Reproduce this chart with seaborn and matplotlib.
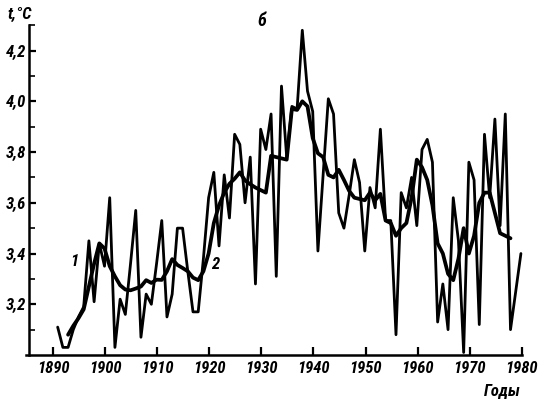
import matplotlib
matplotlib.use("Agg")
import matplotlib.pyplot as plt
from matplotlib import font_manager as fm
from matplotlib.ticker import FixedLocator
import seaborn as sns
import pandas as pd

# ---------------- data ----------------
years = list(range(1890, 1980))
annual = [
    3.11, 3.03, 3.03, 3.10, 3.15, 3.19, 3.45, 3.21, 3.44, 3.35,   # 1890-1899
    3.62, 3.03, 3.22, 3.16, 3.36, 3.57, 3.07, 3.24, 3.20, 3.36,   # 1900-1909
    3.53, 3.15, 3.24, 3.50, 3.50, 3.33, 3.17, 3.17, 3.38, 3.62,   # 1910-1919
    3.72, 3.43, 3.71, 3.54, 3.87, 3.83, 3.60, 3.78, 3.28, 3.89,   # 1920-1929
    3.81, 3.95, 3.31, 4.06, 3.78, 3.98, 3.97, 4.28, 4.04, 3.96,   # 1930-1939
    3.41, 3.71, 4.01, 3.95, 3.56, 3.50, 3.63, 3.77, 3.68, 3.41,   # 1940-1949
    3.66, 3.58, 3.89, 3.53, 3.53, 3.08, 3.64, 3.58, 3.70, 3.51,   # 1950-1959
    3.81, 3.85, 3.76, 3.13, 3.28, 3.10, 3.62, 3.45, 3.01, 3.76,   # 1960-1969
    3.69, 3.12, 3.87, 3.62, 3.93, 3.51, 3.95, 3.10, 3.25, 3.40,   # 1970-1979
]

smooth_years = list(range(1892, 1978))
smoothed = [
    3.08, 3.115, 3.145, 3.18, 3.27, 3.36, 3.44, 3.42,             # 1892-1899
    3.35, 3.31, 3.275, 3.258, 3.255, 3.262, 3.27, 3.295, 3.284, 3.297,  # 1900-1909
    3.296, 3.33, 3.378, 3.355, 3.343, 3.33, 3.305, 3.295, 3.33, 3.40,   # 1910-1919
    3.52, 3.59, 3.64, 3.675, 3.695, 3.72, 3.688, 3.673, 3.66, 3.65,     # 1920-1929
    3.64, 3.785, 3.78, 3.775, 3.77, 3.97, 3.966, 4.00, 3.98, 3.855,     # 1930-1939
    3.795, 3.78, 3.71, 3.70, 3.73, 3.69, 3.647, 3.62, 3.615, 3.61,      # 1940-1949
    3.64, 3.61, 3.635, 3.53, 3.52, 3.47, 3.50, 3.52, 3.62, 3.77,        # 1950-1959
    3.74, 3.69, 3.59, 3.44, 3.40, 3.32, 3.295, 3.38, 3.50, 3.40,        # 1960-1969
    3.47, 3.60, 3.64, 3.64, 3.56, 3.48, 3.47, 3.46,                     # 1970-1977
]

x_ticks = [1890, 1900, 1910, 1920, 1930, 1940, 1950, 1960, 1970, 1980]
y_ticks = [3.2, 3.4, 3.6, 3.8, 4.0, 4.2]
y_tick_labels = ["3,2", "3,4", "3,6", "3,8", "4,0", "4,2"]
y_minor_ticks = [3.1, 3.3, 3.5, 3.7, 3.9, 4.1, 4.3]

y_label = "t,°C"
panel_label = "б"
x_label = "Годы"
series_labels = ["1", "2"]

# the original draws each yearly value a bit to the right of the year tick
YEAR_SHIFT = 0.85

# ---------------- style ----------------
sns.set_style("ticks")
avail = {f.name for f in fm.fontManager.ttflist}
cands = ["Liberation Sans Narrow", "Roboto Condensed", "Open Sans Condensed",
         "Liberation Sans", "DejaVu Sans"]
fam = next((c for c in cands if c in avail), "DejaVu Sans")
plt.rcParams["font.family"] = [fam, "DejaVu Sans"]
plt.rcParams["font.stretch"] = "condensed"

W, H = 538, 399
fig = plt.figure(figsize=(W / 100, H / 100), dpi=100)
ax = fig.add_axes([29.3 / W, 1 - 355 / H, (526.9 - 29.3) / W, (355 - 25.2) / H])

df_a = pd.DataFrame({"x": [y + YEAR_SHIFT for y in years], "t": annual})
df_s = pd.DataFrame({"x": [y + YEAR_SHIFT for y in smooth_years], "t": smoothed})

sns.lineplot(data=df_a, x="x", y="t", ax=ax, color="black", lw=2.0,
             estimator=None, sort=False)
sns.lineplot(data=df_s, x="x", y="t", ax=ax, color="black", lw=2.7,
             estimator=None, sort=False)

xmin, xmax = 1885.4, 1981.0
ax.set_xlim(xmin, xmax)
ax.set_ylim(3.0, 4.3)
ax.set_xlabel("")
ax.set_ylabel("")

for s in ["top", "right"]:
    ax.spines[s].set_visible(False)
for s in ["left", "bottom"]:
    ax.spines[s].set_linewidth(1.8)
    ax.spines[s].set_color("black")
ax.spines["bottom"].set_bounds(xmin - 0.6, 1980)

tick_font = dict(fontsize=12, fontweight="bold", fontstyle="italic")
ax.set_xticks(x_ticks)
ax.set_xticklabels([str(v) for v in x_ticks], **tick_font)
ax.set_yticks(y_ticks)
ax.set_yticklabels(y_tick_labels, **tick_font)
ax.yaxis.set_minor_locator(FixedLocator(y_minor_ticks))

ax.tick_params(axis="x", which="major", direction="in", length=6, width=1.6,
               pad=4, colors="black")
ax.tick_params(axis="y", which="major", direction="in", length=5, width=1.6,
               pad=2.5, colors="black")
ax.tick_params(axis="y", which="minor", direction="in", length=4, width=1.4)

txt = dict(fontweight="bold", fontstyle="italic", color="black")
fig.text(7 / W, 1 - 14 / H, y_label, ha="left", va="center", fontsize=12, **txt)
fig.text(262 / W, 1 - 21 / H, panel_label, ha="center", va="center", fontsize=13, **txt)
fig.text(502 / W, 1 - 391 / H, x_label, ha="center", va="center", fontsize=12, **txt)
ax.text(1894.0, 3.37, series_labels[0], ha="center", va="center", fontsize=12, **txt)
ax.text(1921.1, 3.355, series_labels[1], ha="center", va="center", fontsize=12, **txt)

fig.savefig("out.png", dpi=100, facecolor="white")
